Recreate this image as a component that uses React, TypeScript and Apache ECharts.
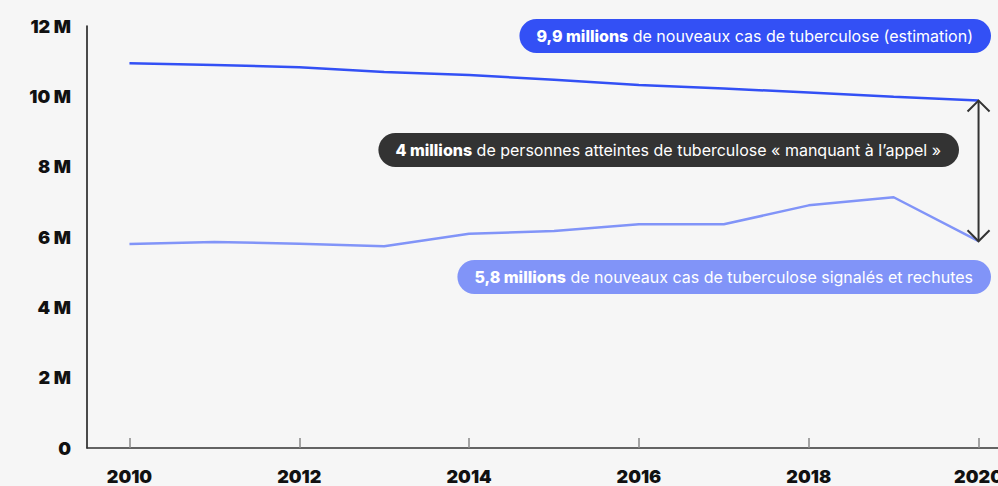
import React, { useEffect, useRef } from "react";
import * as echarts from "echarts";

const years = ["2010", "2011", "2012", "2013", "2014", "2015", "2016", "2017", "2018", "2019", "2020"];
const estimatedCases = [10.94, 10.89, 10.83, 10.69, 10.61, 10.47, 10.32, 10.22, 10.11, 9.99, 9.88];
const notifiedCases = [5.8, 5.86, 5.81, 5.74, 6.09, 6.17, 6.36, 6.36, 6.9, 7.13, 5.88];
const yTicks = { min: 0, max: 12, interval: 2 };

const BLUE = "#3350f5";
const LIGHT = "#8194f8";
const DARK = "#333333";
const FONT = "Inter, 'Noto Sans', sans-serif";

export default function App() {
  const ref = useRef<HTMLDivElement>(null);
  useEffect(() => {
    if (!ref.current) return;
    const chart = echarts.init(ref.current, null, { renderer: "svg" });
    const badge = (text: string, x: number, y: number, bg: string) => ({
      type: "text",
      x,
      y,
      z: 10,
      style: {
        text,
        fill: "#ffffff",
        fontSize: 16,
        fontFamily: FONT,
        fontWeight: 400,
        align: "right",
        verticalAlign: "middle",
        backgroundColor: bg,
        padding: [8, 18, 8, 17],
        borderRadius: 17,
        lineHeight: 18,
        rich: {
          b: { fontWeight: 800, fontSize: 16, fontFamily: FONT, fill: "#ffffff", lineHeight: 18 },
        },
      },
    });
    chart.setOption({
      animation: false,
      backgroundColor: "#f6f6f6",
      grid: { left: 87, top: 26, bottom: 38, width: 934, containLabel: false, outerBoundsMode: "none" },
      xAxis: {
        type: "category",
        data: years,
        boundaryGap: true,
        axisLine: { show: true, lineStyle: { color: "#333", width: 1.5 } },
        axisTick: { show: true, inside: true, length: 10, interval: 1, alignWithLabel: true, lineStyle: { color: "#888", width: 1.5 } },
        axisLabel: { interval: 1, margin: 19, fontSize: 18, fontWeight: 900, fontFamily: FONT, color: "#111" },
        splitLine: { show: false },
      },
      yAxis: {
        type: "value",
        min: yTicks.min,
        max: yTicks.max,
        interval: yTicks.interval,
        axisLine: { show: true, lineStyle: { color: "#111", width: 1.5 } },
        axisTick: { show: false },
        splitLine: { show: false },
        axisLabel: {
          margin: 16,
          fontSize: 18,
          fontWeight: 900,
          fontFamily: FONT,
          color: "#111",
          formatter: (v: number) => (v === 0 ? "0" : `${v} M`),
        },
      },
      series: [
        {
          name: "estimation",
          type: "line",
          data: estimatedCases,
          symbol: "none",
          lineStyle: { color: BLUE, width: 2.5 },
        },
        {
          name: "signalés",
          type: "line",
          data: notifiedCases,
          symbol: "none",
          lineStyle: { color: LIGHT, width: 2.5 },
        },
      ],
    });
    const last = years.length - 1;
    const p1 = chart.convertToPixel({ xAxisIndex: 0, yAxisIndex: 0 }, [years[last], estimatedCases[last]]) as number[];
    const p2 = chart.convertToPixel({ xAxisIndex: 0, yAxisIndex: 0 }, [years[last], notifiedCases[last]]) as number[];
    const ax = p1[0];
    const arrowStyle = { stroke: DARK, lineWidth: 2, fill: "none" };
    chart.setOption({
      graphic: [
        badge("{b|9,9 millions} de nouveaux cas de tuberculose (estimation)", 991, 36, BLUE),
        badge("{b|4 millions} de personnes atteintes de tuberculose « manquant à l’appel »", 959, 150, DARK),
        badge("{b|5,8 millions} de nouveaux cas de tuberculose signalés et rechutes", 991, 277, LIGHT),
        { type: "line", z: 11, shape: { x1: ax, y1: p1[1], x2: ax, y2: p2[1] }, style: arrowStyle },
        { type: "polyline", z: 11, shape: { points: [[ax - 11, p1[1] + 11], [ax, p1[1]], [ax + 11, p1[1] + 11]] }, style: arrowStyle },
        { type: "polyline", z: 11, shape: { points: [[ax - 11, p2[1] - 11], [ax, p2[1]], [ax + 11, p2[1] - 11]] }, style: arrowStyle },
      ],
    });
    return () => chart.dispose();
  }, []);
  return (
    <div
      ref={ref}
      style={{ position: "fixed", left: 0, top: 0, width: 998, height: 486, background: "#f6f6f6" }}
    />
  );
}
